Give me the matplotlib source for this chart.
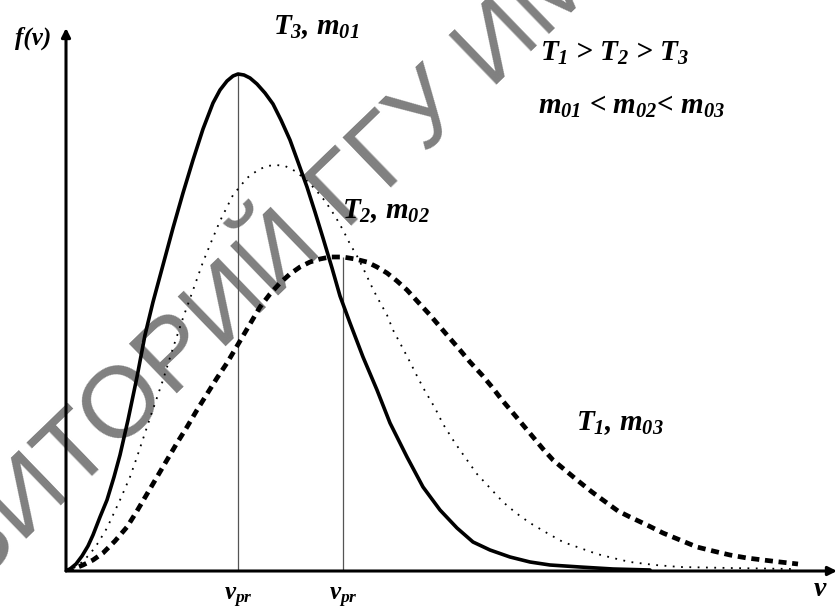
import numpy as np
import matplotlib
matplotlib.use("Agg")
import matplotlib.pyplot as plt
from matplotlib.textpath import TextPath
from matplotlib.font_manager import FontProperties


# values (arbitrary units: speed v, f(v))
v_t3 = [0, 4, 10, 16, 22, 27, 34, 41, 48, 54, 62, 71, 79, 87, 97, 107, 117,
        127, 137, 147, 154, 161, 167, 172, 178, 184, 191, 199, 207, 215, 224,
        232, 241, 249, 257, 266, 274, 284, 297, 311, 324, 341, 357, 374, 391,
        407, 424, 444, 464, 484, 514, 547, 584]
f_t3 = [0, 2, 7, 15, 25, 36, 54, 71, 94, 116, 151, 194, 236, 269, 306, 343,
        378, 411, 442, 468, 481, 490, 495, 497, 496, 493, 487, 478, 467, 451,
        431, 409, 384, 359, 333, 303, 275, 248, 214, 181, 148, 114, 84, 61,
        43, 29, 21, 14, 9, 6, 4, 2, 1]

v_t2 = [0, 6, 14, 24, 32, 41, 54, 64, 71, 84, 97, 107, 117, 126, 137, 146,
        154, 167, 181, 192, 201, 210, 219, 229, 239, 249, 259, 269, 277, 284,
        291, 298, 305, 311, 321, 327, 334, 344, 352, 359, 369, 377, 389, 401,
        411, 424, 437, 450, 464, 481, 497, 514, 531, 547, 564, 589, 614, 664,
        727]
f_t2 = [0, 2, 7, 17, 28, 43, 71, 94, 114, 153, 191, 223, 253, 278, 309, 331,
        350, 376, 393, 401, 405, 406, 405, 400, 392, 382, 370, 355, 341, 327,
        315, 301, 286, 274, 256, 241, 228, 209, 193, 180, 163, 147, 128, 111,
        97, 83, 69, 58, 48, 38, 29, 23, 17, 13, 9, 6, 4, 3, 2]

v_t1 = [0, 7, 17, 27, 37, 49, 61, 71, 81, 91, 101, 111, 121, 131, 141, 151,
        161, 174, 184, 194, 204, 214, 224, 234, 244, 254, 264, 277, 289, 301,
        311, 321, 331, 341, 352, 364, 381, 394, 404, 416, 426, 436, 447, 457,
        467, 477, 487, 499, 511, 526, 541, 552, 564, 581, 597, 614, 631, 647,
        664, 681, 697, 714, 732]
f_t1 = [0, 2, 6, 11, 18, 30, 44, 60, 77, 94, 111, 128, 144, 161, 177, 193,
        208, 230, 247, 264, 277, 288, 297, 304, 309, 312, 314, 314, 312, 309,
        304, 298, 290, 281, 269, 256, 236, 221, 209, 196, 184, 171, 158, 146,
        134, 122, 111, 101, 91, 79, 68, 60, 54, 46, 38, 31, 24, 20, 16, 13,
        11, 9, 7]

# most probable speeds and the peak heights of the solid and dashed curves
v_pr = [172, 277]
f_pr = [497, 314]

curve_labels = ["$T_3$, $m_{01}$", "$T_2$, $m_{02}$", "$T_1$, $m_{03}$"]
relation_labels = ["$T_1$ > $T_2$ > $T_3$", "$m_{01}$ < $m_{02}$< $m_{03}$"]
watermark = "РЕПОЗИТОРИЙ ГГУ ИМЕНИ Ф. СКОРИНЫ"

W, H = 837, 609

plt.rcParams["mathtext.fontset"] = "custom"
plt.rcParams["mathtext.it"] = "Liberation Serif:italic:bold"
plt.rcParams["mathtext.rm"] = "Liberation Serif:italic:bold"
plt.rcParams["mathtext.bf"] = "Liberation Serif:italic:bold"


def fpos(px, py):
    # picture pixel -> figure fraction
    return px / W, 1 - py / H


fig = plt.figure(figsize=(W / 100, H / 100), dpi=100)
fig.patch.set_facecolor("white")

x0, y0 = fpos(66, 571)
x1, y1 = fpos(837, 28)
ax = fig.add_axes([x0, y0, x1 - x0, y1 - y0])
ax.set_xlim(0, 771)
ax.set_ylim(0, 543)
ax.axis("off")

# watermark, placed so that the "О" after "Т" sits at picture pixel (118, 400)
wm_size = 73
wm_angle = 44
fp = FontProperties(family="Liberation Sans", size=wm_size)
pre = TextPath((0, 0), "РЕПОЗИТО", prop=fp).get_extents()
o_box = TextPath((0, 0), "О", prop=fp).get_extents()
d = (pre.x1 - o_box.width / 2) * 100 / 72
cap = 0.716 * wm_size * 100 / 72
th = np.radians(wm_angle)
ocx, ocy = 118, H - 400
sx = ocx - d * np.cos(th) + cap / 2 * np.sin(th)
sy = ocy - d * np.sin(th) - cap / 2 * np.cos(th)
fig.text(sx / W, sy / H, watermark, rotation=wm_angle, rotation_mode="anchor",
         ha="left", va="baseline", fontsize=wm_size, family="Liberation Sans",
         color="#808080", zorder=-1)

# axes with arrows
arrow = dict(arrowstyle="-|>", lw=2.2, color="black", mutation_scale=13,
             shrinkA=0, shrinkB=0)
ax.annotate("", xy=(1, 0), xytext=(0, 0), xycoords="axes fraction",
            arrowprops=arrow, annotation_clip=False)
ax.annotate("", xy=(0, 1), xytext=(0, 0), xycoords="axes fraction",
            arrowprops=arrow, annotation_clip=False)

ax.vlines(v_pr, 0, f_pr, colors="#555555", lw=0.9, zorder=2)

ax.plot(v_t2, f_t2, color="black", lw=1.3, linestyle=(0, (1, 3.6)), zorder=3)
ax.plot(v_t1, f_t1, color="black", lw=3.4, linestyle=(0, (1.7, 1.2)), zorder=3)
ax.plot(v_t3, f_t3, color="black", lw=2.6, zorder=4,
        solid_joinstyle="round", solid_capstyle="round")

txt = dict(color="black", ha="center", va="center", family="Liberation Serif",
           weight="bold", style="italic")
fig.text(*fpos(316, 27), curve_labels[0], fontsize=21, **txt)
fig.text(*fpos(386, 211), curve_labels[1], fontsize=21, **txt)
fig.text(*fpos(620, 423), curve_labels[2], fontsize=21, **txt)
fig.text(*fpos(615, 53), relation_labels[0], fontsize=21, **txt)
fig.text(*fpos(632, 106), relation_labels[1], fontsize=21, **txt)

fig.text(*fpos(33, 38), "f(v)", fontsize=18, **txt)
fig.text(*fpos(820, 590), "v", fontsize=20, **txt)
for vp in v_pr:
    ax.text(vp, -27, "$v_{pr}$", fontsize=18, clip_on=False, **txt)

fig.savefig("out.png", dpi=100, facecolor="white")
